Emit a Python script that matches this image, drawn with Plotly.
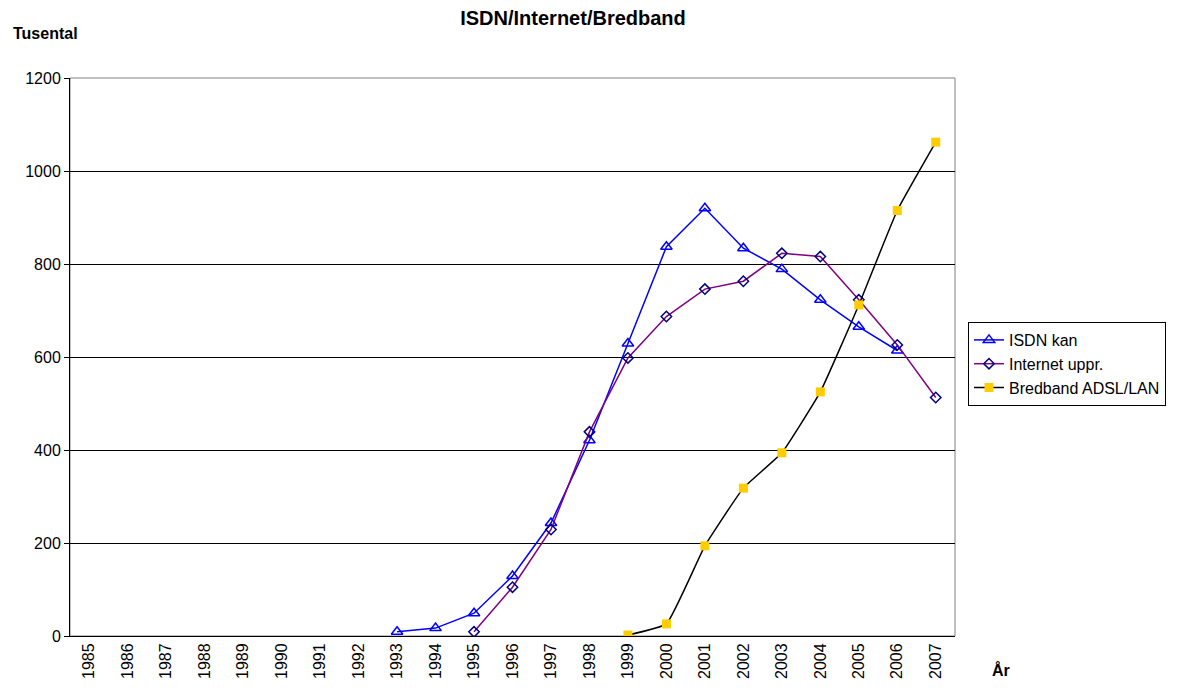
import plotly.graph_objects as go

years = [str(y) for y in range(1985, 2008)]
isdn = [None]*8 + [9, 17, 49, 129, 243, 421, 629, 837, 920, 834, 789, 723, 665, 614, None]
internet = [None]*10 + [9, 105, 229, 439, 598, 687, 746, 763, 823, 816, 723, 626, 513]
bredband = [None]*14 + [2, 26, 194, 318, 394, 525, 712, 915, 1062]

FONT = "Liberation Sans, Arial, sans-serif"

fig = go.Figure()
fig.add_trace(go.Scatter(
    x=years, y=isdn, name="ISDN kan", mode="lines+markers",
    line=dict(color="#0000FF", width=1.5),
    marker=dict(symbol="triangle-up-open", size=10, color="#0000FF", line=dict(width=1.5, color="#0000FF")),
))
fig.add_trace(go.Scatter(
    x=years, y=internet, name="Internet uppr.", mode="lines+markers",
    line=dict(color="#800080", width=1.5),
    marker=dict(symbol="diamond-open", size=8, color="#000080", line=dict(width=1.5, color="#000080")),
))
fig.add_trace(go.Scatter(
    x=years, y=bredband, name="Bredband ADSL/LAN", mode="lines+markers",
    line=dict(color="#000000", width=1.5, shape="spline", smoothing=0.35),
    marker=dict(symbol="square", size=9, color="#FFCC00", line=dict(width=0)),
))

fig.add_shape(type="rect", xref="x domain", yref="y domain", x0=0, x1=1, y0=0, y1=1,
              line=dict(color="#808080", width=1), layer="below")

# page has an 8px body margin; compensate
W, H = 1170, 680
L, T = 62, 70
PW, PH = 885, 558

fig.update_layout(
    width=W, height=H,
    margin=dict(l=L, r=W - L - PW, t=T, b=H - T - PH),
    paper_bgcolor="white", plot_bgcolor="white",
    font=dict(family=FONT, size=16, color="black"),
    title=dict(text="<b>ISDN/Internet/Bredband</b>", x=(573 - 8) / W, xref="container", xanchor="center",
               y=1 - (18 - 8) / H, yanchor="middle", yref="container", font=dict(size=20, family=FONT)),
    xaxis=dict(type="category", categoryorder="array", categoryarray=years,
               range=[-0.5, 22.5], tickangle=-90, showgrid=False, zeroline=False,
               showline=True, linecolor="black", linewidth=1, ticks="", tickfont=dict(size=16),
               automargin=False),
    yaxis=dict(range=[0, 1200], dtick=200, showgrid=True, gridcolor="black", gridwidth=1,
               zeroline=False, showline=True, linecolor="black", linewidth=1,
               ticks="outside", ticklen=5, tickcolor="black", tickfont=dict(size=16),
               automargin=False),
    legend=dict(x=(968 - 70) / PW, xanchor="left", y=(636 - 322) / PH, yanchor="top", bordercolor="black",
                borderwidth=1, bgcolor="white", font=dict(size=16, family=FONT),
                tracegroupgap=0),
    showlegend=True,
    annotations=[
        dict(text="<b>Tusental</b>", xref="paper", yref="paper", x=(11 - 70) / PW, y=(636 - 33) / PH,
             xanchor="left", yanchor="middle", showarrow=False, font=dict(size=16, family=FONT)),
        dict(text="<b>År</b>", xref="paper", yref="paper", x=(1001 - 70) / PW, y=-(670 - 636) / PH,
             xanchor="center", yanchor="middle", showarrow=False, font=dict(size=16, family=FONT)),
    ],
)

fig.write_html("out.html")
